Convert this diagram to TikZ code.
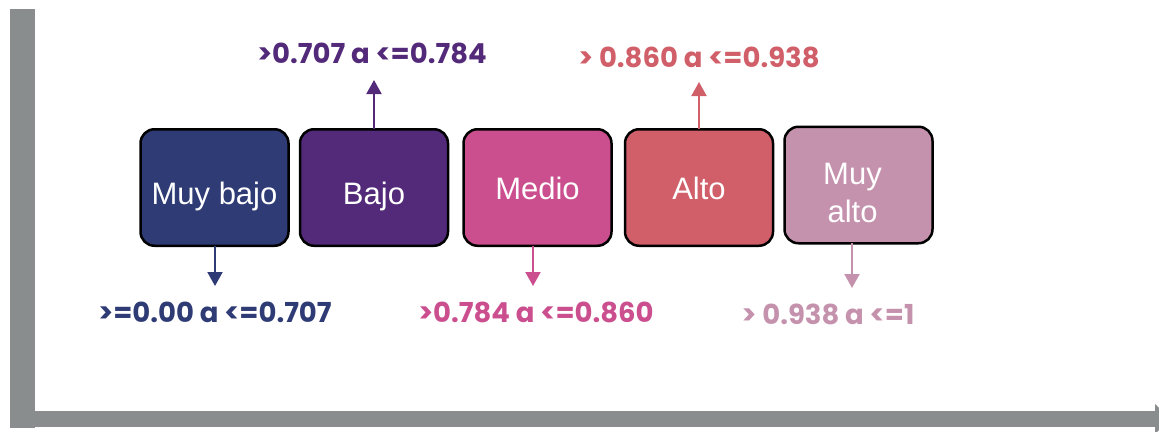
\documentclass[tikz,border=0pt]{standalone}
\usepackage{fontspec}
\setmainfont{Liberation Sans}
\newfontfamily\rangefont{Poppins}
\usetikzlibrary{positioning,arrows.meta}
\definecolor{axisgray}{HTML}{8A8D8E}
\definecolor{muybajoc}{HTML}{2E3B74}
\definecolor{bajoc}{HTML}{532A79}
\definecolor{medioc}{HTML}{CB4F8E}
\definecolor{altoc}{HTML}{D05F69}
\definecolor{muyaltoc}{HTML}{C592AD}
\newcommand\lowered[2]{\raisebox{-#1}[0pt][0pt]{#2}}
\begin{document}
\begin{tikzpicture}[x=1pt,y=-1pt,
         level/.style = {draw=black, line width=2.5pt, rounded corners=14pt,
         minimum width=148pt, minimum height=116.5pt, inner sep=0pt,
         outer sep=0pt, text=white, align=center,
         font=\fontsize{31}{38}\selectfont},
         rangelbl/.style = {inner sep=0pt, font=\rangefont\bfseries\fontsize{27.5}{30}\selectfont},
         pointer/.style = {line width=2pt, -{Triangle[width=15pt,length=14pt]}}
]
   \useasboundingbox (0,0) rectangle (1159,431);
   \begin{scope}
      \clip (0,0) rectangle (1159,431);
      % axes
      \fill[axisgray] (10,9) rectangle (35,428);
      \fill[axisgray] (35,411) rectangle (1155,427);
      \fill[axisgray] (1155,404) -- (1170,419) -- (1155,434) -- cycle;
   \end{scope}

   % levels
   \node[level, fill=muybajoc] (mb) at (214.5,187.5) {\lowered{16.5pt}{Muy bajo}};
   \node[level, fill=bajoc, right=11.5pt of mb] (bj) {\lowered{16.5pt}{Bajo}};
   \node[level, fill=medioc, right=15.5pt of bj] (me) {\lowered{11.5pt}{Medio}};
   \node[level, fill=altoc, right=13.5pt of me] (al) {\lowered{11.5pt}{Alto}};
   \node[level, fill=muyaltoc, right=11.5pt of al, yshift=2.5pt] (ma)
      {\lowered{37pt}{\kern-12pt\parbox[b]{120pt}{\centering Muy\\alto}}};

   % ranges
   \node[rangelbl, text=muybajoc] (rmb) at (215,312) {>=0.00 a <=0.707};
   \node[rangelbl, text=bajoc] (rbj) at (372,53) {>0.707 a <=0.784};
   \node[rangelbl, text=medioc] (rme) at (536,312) {>0.784 a <=0.860};
   \node[rangelbl, text=altoc] (ral) at (699,57) {> 0.860 a <=0.938};
   \node[rangelbl, text=muyaltoc] (rma) at (828,314) {> 0.938 a <=1};

   \coordinate (tmb) at (215,286);
   \coordinate (tbj) at (374,80);
   \coordinate (tme) at (533,286);
   \coordinate (tal) at (699,82);
   \coordinate (tma) at (852,288);

   \draw[pointer, muybajoc] (mb.south -| tmb) -- (tmb);
   \draw[pointer, bajoc] (bj.north -| tbj) -- (tbj);
   \draw[pointer, medioc] (me.south -| tme) -- (tme);
   \draw[pointer, altoc] (al.north -| tal) -- (tal);
   \draw[pointer, muyaltoc] (ma.south -| tma) -- (tma);
\end{tikzpicture}
\end{document}
